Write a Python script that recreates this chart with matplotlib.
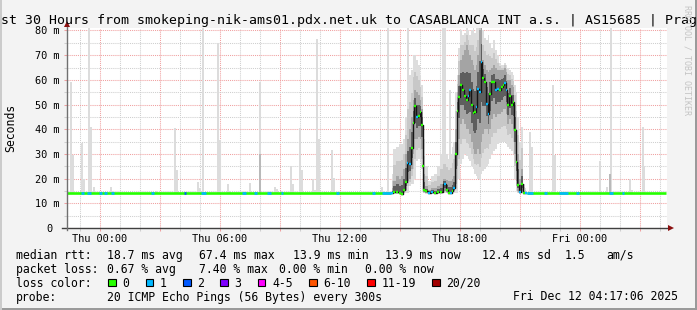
import numpy as np
import matplotlib
matplotlib.use('Agg')
import matplotlib.pyplot as plt
from matplotlib.patches import Rectangle

plt.rcParams['font.family'] = 'DejaVu Sans Mono'

W, H = 697, 310

# ---------------------------------------------------------------- data
# times are hours relative to Thu 00:00 (graph: Wed 22:17:06 -> Fri 04:17:06)
t_start = -1.715
t_end = 28.285
step = 1 / 12            # one 5 minute rrd step
base_ms = 14.0           # median rtt on a quiet line

# single outlier pings on the quiet line (light smoke bars)
spike_t = [-1.45, -1.37, -0.90, -0.82, -0.55, -0.47, -0.28, 0.55, 0.63, 2.85,
           3.75, 3.83, 4.90, 4.98, 5.15, 5.90, 5.98, 6.40, 6.48, 7.50,
           8.00, 8.75, 8.83, 9.10, 9.55, 9.63, 10.00, 10.08, 10.65, 10.73,
           10.85, 10.93, 11.25, 11.60, 11.68, 14.10, 14.18, 14.40, 15.42, 17.15,
           17.23, 17.50, 21.50, 21.58, 22.65, 22.73, 25.00, 25.35, 25.50, 25.55,
           26.50, 26.58, 27.15, 27.22]
spike_hi = [59, 29.5, 34.5, 20, 82, 41, 16.5, 16.5, 15, 14.8,
            40.4, 23.4, 18.7, 16, 82, 75, 35.5, 17.8, 15, 18.2,
            59, 16.5, 15.8, 14.8, 25, 18, 40.4, 23.4, 19.8, 15.5,
            76.6, 36, 14.7, 31.5, 20.2, 16.5, 15, 82, 82, 82,
            82, 55.8, 39, 32.7, 58, 29.5, 27, 16.7, 21.8, 82,
            19.8, 15.5, 41, 25]
dark_t = [8.00, 25.50]
dark_hi = [30, 21.8]

# the congested afternoon / evening of Thursday
busy_t = [14.60, 14.70, 14.85, 15.00, 15.10, 15.20, 15.30, 15.37, 15.50, 15.60,
          15.67, 15.75, 15.85, 15.95, 16.02, 16.10, 16.15, 16.20, 16.30,
          16.45, 16.60, 16.75, 16.90, 17.05, 17.25, 17.35, 17.45, 17.55, 17.62,
          17.70, 17.80,
          17.87, 17.95, 18.05, 18.15, 18.25, 18.35, 18.42, 18.50, 18.60, 18.67,
          18.75, 18.82, 18.90, 19.00, 19.07, 19.15, 19.25, 19.35, 19.42, 19.50,
          19.60, 19.70, 19.80, 19.90, 20.00, 20.10, 20.17, 20.25, 20.32, 20.40,
          20.50, 20.60, 20.67, 20.75, 20.82, 20.90, 21.00, 21.10, 21.20, 21.30]
busy_med = [14.3, 14.7, 14.5, 14.2, 13.7, 15.3, 18.5, 26.4, 25.9, 32.5,
            42.7, 49.4, 45.0, 45.5, 47.0, 41.6, 25.0, 15.4, 14.8,
            14.2, 14.4, 14.3, 14.5, 14.6, 17.8, 15.3, 14.0, 14.2, 15.0,
            16.0, 29.8,
            47.3, 53.0, 57.8, 56.0, 53.3, 52.0, 53.5, 55.8, 50.0, 46.5,
            47.0, 49.0, 56.4, 55.0, 67.2, 60.7, 59.0, 50.4, 46.0, 54.4,
            59.0, 59.0, 55.8, 56.3, 56.0, 57.0, 57.8, 58.7, 56.0, 49.7,
            53.5, 49.7, 51.0, 39.6, 26.8, 17.4, 14.6, 17.8, 14.2, 14.0]
busy_lo = [13.8, 13.9, 13.9, 13.9, 13.7, 14.0, 14.2, 15, 17, 18,
           18, 20, 27, 28, 27, 24, 16, 14, 13.9,
           13.8, 13.9, 13.9, 13.9, 13.9, 14.2, 14.0, 13.8, 13.8, 13.9,
           14.0, 14.0,
           14, 20, 26, 28, 30, 29, 28, 27, 25, 24,
           22, 21, 20, 19.5, 22, 23, 24, 25, 26, 28,
           30, 31, 32, 34, 34.5, 35, 35, 35, 34, 33,
           32, 31, 30, 20, 15, 14, 13.9, 14, 13.9, 13.9]
busy_q1 = [14.0, 14.2, 14.2, 14.0, 13.9, 14.6, 15.5, 19, 20, 24,
           30, 36, 36, 37, 36, 32, 19, 14.5, 14.2,
           14.0, 14.0, 14.1, 14.1, 14.2, 15.0, 14.5, 14.0, 14.0, 14.3,
           14.8, 18,
           25, 36, 42, 44, 42, 40, 40, 38, 35, 32,
           30, 30, 32, 30, 35, 38, 40, 40, 38, 40,
           44, 46, 45, 46, 46, 47, 48, 48, 46, 42,
           44, 42, 40, 30, 19, 15, 14.2, 15, 14.0, 14.0]
busy_q3 = [16, 19, 21, 20, 21, 24, 30, 36, 40, 45,
           52, 56, 55, 54, 52, 48, 36, 22, 17,
           15.5, 16, 16, 17, 18, 20, 19.5, 19, 19, 20,
           21, 40,
           55, 62, 68, 70, 72, 74, 72, 70, 68, 66,
           64, 66, 70, 80, 82, 68, 66, 64, 63, 64,
           65, 66, 65, 64, 64, 64, 64, 65, 63, 60,
           60, 58, 57, 50, 40, 30, 20, 24, 15, 14.5]
busy_hi = [22, 32, 33, 34, 34, 36, 45, 60, 62, 64,
           70, 70, 68, 66, 62, 58, 50, 36, 25,
           19, 21, 22, 25, 30, 32, 30, 28, 30, 33,
           35, 55,
           62, 73, 80, 78, 79, 82, 80, 78, 80, 82,
           79, 81, 82, 82, 82, 80, 77, 76, 78, 75,
           73, 76, 72, 70, 67, 66, 66, 67, 66, 65,
           64, 63, 62, 58, 55, 45, 35, 41, 18, 16]
busy_loss = [1, 0, 0, 0, 0, 0, 0, 1, 1, 0,
             0, 0, 1, 0, 0, 0, 0, 0, 0,
             1, 1, 0, 0, 0, 1, 0, 0, 1, 0,
             1, 0,
             0, 0, 0, 0, 0, 0, 1, 1, 0, 0,
             0, 1, 1, 1, 1, 0, 0, 1, 1, 0,
             0, 0, 1, 1, 0, 0, 0, 1, 1, 0,
             0, 0, 0, 0, 0, 0, 1, 0, 0, 1]

# packet loss on the quiet line (start, end, lost pings)
loss_start = [-0.95, -0.65, -0.05, 0.20, 0.55, 2.55, 4.20, 5.05, 7.10, 7.70, 8.35,
              9.05, 11.80, 13.60, 14.10, 21.35, 22.20, 22.95, 23.80, 25.45, 26.10]
loss_end = [-0.80, -0.45, 0.10, 0.35, 0.70, 2.70, 4.30, 5.30, 7.30, 7.85, 8.55,
            9.15, 11.95, 13.75, 14.55, 21.65, 22.35, 23.40, 23.95, 25.65, 26.20]
loss_n = [1, 1, 1, 1, 1, 1, 2, 1, 1, 1, 1,
          1, 1, 1, 1, 1, 1, 1, 1, 1, 1]

tick_hours = [0, 6, 12, 18, 24]
tick_labels = ['Thu 00:00', 'Thu 06:00', 'Thu 12:00', 'Thu 18:00', 'Fri 00:00']
y_ticks = [0, 10, 20, 30, 40, 50, 60, 70, 80]
y_labels = ['0 ', '10 m', '20 m', '30 m', '40 m', '50 m', '60 m', '70 m', '80 m']

legend_labels = ['0', '1', '2', '3', '4-5', '6-10', '11-19', '20/20']
legend_colors = ['#26ff00', '#00b8ff', '#0059ff', '#7e00ff',
                 '#ff00ff', '#ff5500', '#ff0000', '#a10000']

title = 'st 30 Hours from smokeping-nik-ams01.pdx.net.uk to CASABLANCA INT a.s. | AS15685 | Prag'
rtt_items = ['median rtt:', '18.7 ms avg', '67.4 ms max', '13.9 ms min',
             '13.9 ms now', '12.4 ms sd', '1.5', 'am/s']
loss_items = ['packet loss:', '0.67 % avg', '7.40 % max', '0.00 % min', '0.00 % now']
probe_items = ['probe:', '20 ICMP Echo Pings (56 Bytes) every 300s',
               'Fri Dec 12 04:17:06 2025']


def loss_colour(n):
    if n <= 3:
        return legend_colors[n]
    if n <= 5:
        return legend_colors[4]
    if n <= 10:
        return legend_colors[5]
    if n <= 19:
        return legend_colors[6]
    return legend_colors[7]


def fx(x):
    return x / W


def fy(y):
    return 1 - y / H


# ---------------------------------------------------------------- figure
fig = plt.figure(figsize=(W / 100, H / 100), dpi=100, facecolor='#f3f3f3')
ax = fig.add_axes([fx(67), 82 / H, 600 / W, 200 / H])
ax.set_facecolor('white')
ax.set_xlim(-1.65, 28.35)
ax.set_ylim(0, 81)

# smoke
ax.bar(spike_t, np.array(spike_hi) - base_ms, bottom=base_ms, width=0.1,
       color='#dcdcdc', lw=0, zorder=1)
ax.bar(dark_t, np.array(dark_hi) - base_ms, bottom=base_ms, width=0.1,
       color='#b9b9b9', lw=0, zorder=1.1)

bt = np.array(busy_t)
med = np.array(busy_med)
lo = np.array(busy_lo)
hi = np.array(busy_hi)
q1 = np.array(busy_q1)
q3 = np.array(busy_q3)
ax.fill_between(bt, lo, hi, step='mid', color='#dddddd', lw=0, zorder=1.2)
ax.fill_between(bt, (lo + q1) / 2, (q3 + hi) / 2, step='mid', color='#c8c8c8',
                lw=0, zorder=1.25)
ax.fill_between(bt, q1, q3, step='mid', color='#a4a4a4', lw=0, zorder=1.3)
ax.fill_between(bt, (q1 + med) / 2, (q3 + med) / 2, step='mid', color='#5e5e5e',
                lw=0, zorder=1.4)

# median line, coloured by loss
ax.step(bt, med, where='mid', color='#151515', lw=1.0, zorder=3)
ax.hlines(med, bt - step / 2, bt + step / 2,
          colors=[loss_colour(n) for n in busy_loss], lw=1.7, zorder=3.2)
ax.hlines(base_ms, t_start, bt[0] - step / 2, colors=legend_colors[0], lw=1.9, zorder=3)
ax.hlines(base_ms, bt[-1] + step / 2, t_end, colors=legend_colors[0], lw=1.9, zorder=3)
ax.hlines(np.full(len(loss_n), base_ms), loss_start, loss_end,
          colors=[loss_colour(n) for n in loss_n], lw=1.9, zorder=3.1)

# grid and ticks (grid sits below the smoke, as in rrdtool)
majors = list(range(0, 28, 3))
ax.set_xticks(majors)
ax.set_xticklabels([tick_labels[tick_hours.index(h)] if h in tick_hours else ''
                    for h in majors])
ax.set_xticks(list(range(-1, 29)), minor=True)
ax.set_yticks(y_ticks)
ax.set_yticklabels(y_labels)
ax.set_yticks(list(range(5, 81, 10)), minor=True)
ax.set_axisbelow(True)
ax.grid(which='major', color='#f0a0a0', ls=(0, (1, 1)), lw=0.75)
ax.grid(which='minor', color='#cfcfcf', ls=(0, (1, 1)), lw=0.75)
ax.tick_params(which='major', length=2.5, width=0.75, color='#f0a0a0',
               labelsize=7.4, pad=1.5)
ax.tick_params(which='minor', length=2, width=0.75, color='#cfcfcf')
ax.tick_params(axis='y', which='major', pad=3)

for s in ax.spines.values():
    s.set_visible(False)
ax.plot([-0.008, 1.002], [0, 0], transform=ax.transAxes, color='#404040', lw=1,
        clip_on=False, zorder=4)
ax.plot([0, 0], [-0.01, 1.01], transform=ax.transAxes, color='#707070', lw=1,
        clip_on=False, zorder=4)
ax.plot([1.007], [0], marker='>', ms=4, mew=0, color='#8b1010',
        transform=ax.transAxes, clip_on=False, zorder=5)
ax.plot([0], [1.02], marker='^', ms=4, mew=0, color='#8b1010',
        transform=ax.transAxes, clip_on=False, zorder=5)

# texts
fig.text(fx(1.0), fy(24), title, size=9.5, va='baseline', ha='left')
fig.text(fx(10.5), fy(128), 'Seconds', size=8.3, rotation=90, va='center', ha='center')
fig.text(fx(687.5), fy(60), 'RRDTOOL / TOBI OETIKER', size=6, rotation=270,
         color='#c4c4c4', va='center', ha='center')

rtt_x = [15.5, 106.6, 199.3, 292.6, 385.3, 482, 564.3, 606]
for s, x in zip(rtt_items, rtt_x):
    fig.text(fx(x), fy(259), s, size=8.3, va='baseline')
loss_x = [15.5, 106.6, 199.3, 278.6, 365.3]
for s, x in zip(loss_items, loss_x):
    fig.text(fx(x), fy(273), s, size=8.3, va='baseline')
fig.text(fx(15.5), fy(287), 'loss color:', size=8.3, va='baseline')
bx = 108.3
for lab, col in zip(legend_labels, legend_colors):
    fig.patches.append(Rectangle((fx(bx), fy(286.2)), 7.6 / W, 7.6 / H,
                                 transform=fig.transFigure, facecolor=col,
                                 edgecolor='black', lw=0.8))
    fig.text(fx(bx + 14.3), fy(287), lab, size=8.3, va='baseline')
    bx = bx + 15 + len(lab) * 6.95 + 15.4
probe_x = [15.5, 106.6, 512.6]
for s, x in zip(probe_items, probe_x):
    fig.text(fx(x), fy(300.5), s, size=8.3, va='baseline')

# rrdtool style frame
fig.patches.append(Rectangle((0, 0), 1, 2.5 / H, transform=fig.transFigure,
                             color='#9a9a9a', lw=0))
fig.patches.append(Rectangle((1 - 2.5 / W, 0), 2.5 / W, 1, transform=fig.transFigure,
                             color='#9a9a9a', lw=0))
fig.patches.append(Rectangle((0, 0), 1.8 / W, 1, transform=fig.transFigure,
                             color='#cbcbcb', lw=0))

fig.savefig('out.png', dpi=100, facecolor=fig.get_facecolor())
